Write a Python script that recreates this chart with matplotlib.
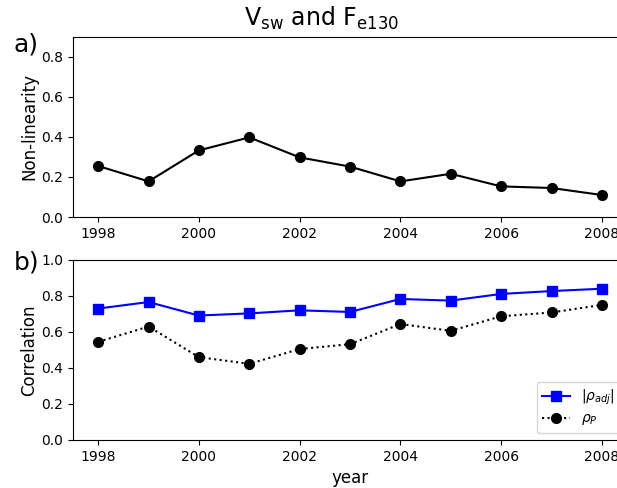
import matplotlib
matplotlib.use("Agg")
import matplotlib.pyplot as plt

# data
years = [1998, 1999, 2000, 2001, 2002, 2003, 2004, 2005, 2006, 2007, 2008]
nonlinearity = [0.255, 0.178, 0.333, 0.398, 0.298, 0.252, 0.178, 0.216, 0.153, 0.145, 0.110]
rho_adj = [0.730, 0.766, 0.691, 0.703, 0.720, 0.711, 0.783, 0.774, 0.811, 0.827, 0.840]
rho_p = [0.545, 0.630, 0.460, 0.423, 0.505, 0.532, 0.644, 0.606, 0.687, 0.708, 0.750]
xticks = [1998, 2000, 2002, 2004, 2006, 2008]


def main() -> None:
    fig = plt.figure(figsize=(6.17, 4.88), dpi=100)
    fig.patch.set_facecolor("white")

    # axes run past the right edge, like the cropped original
    ax1 = fig.add_axes([0.1183, 0.5553, 0.898, 0.369])
    ax2 = fig.add_axes([0.1183, 0.0984, 0.898, 0.369])

    ax1.plot(years, nonlinearity, "k-o", lw=1.5, ms=7)
    ax1.set_ylim(0, 0.9)
    ax1.set_yticks([0.0, 0.2, 0.4, 0.6, 0.8])
    ax1.set_ylabel("Non-linearity", fontsize=12, labelpad=2)

    ax2.plot(years, rho_adj, "b-s", lw=1.5, ms=7, label=r"$|\rho_{adj}|$")
    ax2.plot(years, rho_p, "k:o", lw=1.5, ms=7, label=r"$\rho_P$")
    ax2.set_ylim(0, 1.0)
    ax2.set_ylabel("Correlation", fontsize=12, labelpad=2)
    ax2.set_xlabel("year", fontsize=12)
    ax2.legend(loc="lower right", fontsize=10, labelspacing=0.3)

    for ax in (ax1, ax2):
        ax.set_xlim(1997.5, 2008.5)
        ax.set_xticks(xticks)
        ax.tick_params(labelsize=10)

    fig.text(0.022, 0.908, "a)", fontsize=18, va="center")
    fig.text(0.022, 0.463, "b)", fontsize=18, va="center")
    fig.text(322 / 617, 0.962, r"V$_{\rm sw}$ and F$_{\rm e130}$",
             fontsize=17, ha="center", va="center")

    fig.savefig("out.png", dpi=100, facecolor="white")
    plt.close(fig)


if __name__ == "__main__":
    main()
